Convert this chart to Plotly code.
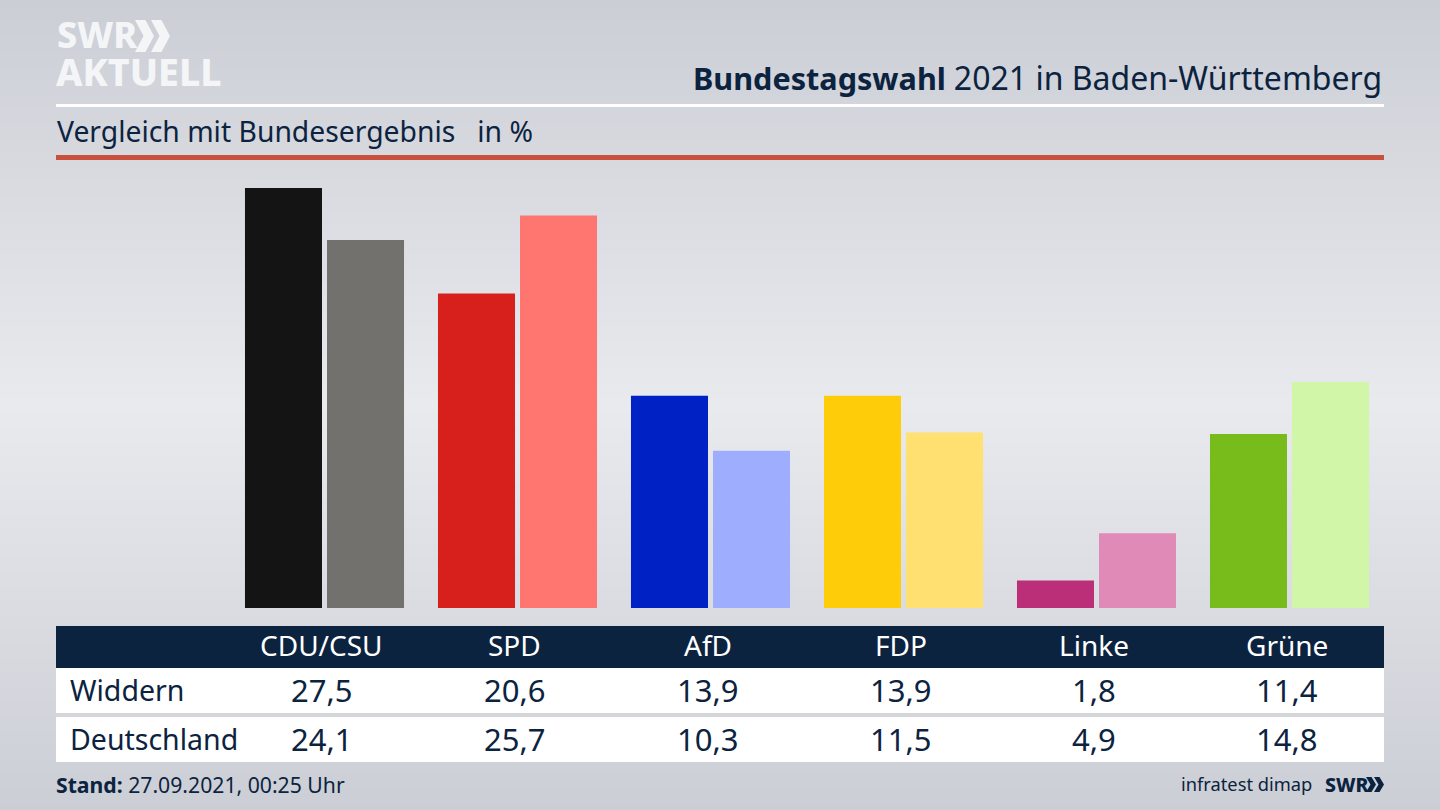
import plotly.graph_objects as go

# chart values
parties = ["CDU/CSU", "SPD", "AfD", "FDP", "Linke", "Grüne"]
widdern = [27.5, 20.6, 13.9, 13.9, 1.8, 11.4]
deutschland = [24.1, 25.7, 10.3, 11.5, 4.9, 14.8]
widdern_colors = ["#141414", "#d7201c", "#0021c4", "#ffcc0a", "#bb2f78", "#78bc1c"]
deutschland_colors = ["#72716e", "#ff7570", "#9fadff", "#ffe070", "#e08ab8", "#d2f6a8"]
row_labels = ["Widdern", "Deutschland"]

# background gradient, from top to bottom of the page
bg_stops = [0, 405, 810]
bg_levels = [0.0, 1.0, 0.0]

W = 1440
H = 810
FONT = "Noto Sans"
NAVY = "#0c2340"
LOGO = "#f4f5f7"


def px(x):
    return x / W


def py(y):
    return 1 - y / H


def rect(x0, y0, x1, y1, color):
    return dict(type="rect", xref="paper", yref="paper", x0=px(x0), x1=px(x1),
                y0=py(y0), y1=py(y1), fillcolor=color, line_width=0)


def label(x, y, text, size, color=NAVY, anchor="center", weight=None):
    font = dict(family=FONT, size=size, color=color)
    if weight:
        font["weight"] = weight
    return dict(xref="paper", yref="paper", x=px(x), y=py(y), text=text, showarrow=False,
                xanchor=anchor, yanchor="middle", font=font)


def chevron(x, y, w, h, color):
    # one arrow of the SWR logo
    t = w * 0.55
    path = "M {} {} L {} {} L {} {} L {} {} L {} {} L {} {} Z".format(
        px(x), py(y), px(x + t), py(y), px(x + w), py(y + h / 2),
        px(x + t), py(y + h), px(x), py(y + h), px(x + w - t), py(y + h / 2))
    return dict(type="path", xref="paper", yref="paper", path=path, line_width=0, fillcolor=color)


fig = go.Figure()

# page background
fig.add_trace(go.Heatmap(
    x=[0, 1], y=bg_stops, z=[[v, v] for v in bg_levels],
    zmin=0, zmax=1, zsmooth="best", showscale=False, hoverinfo="skip",
    colorscale=[[0, "#cbced5"], [1, "#e9eaee"]],
))

fig.add_trace(go.Bar(x=parties, y=widdern, name=row_labels[0], marker=dict(color=widdern_colors, line_width=0),
                     xaxis="x2", yaxis="y2"))
fig.add_trace(go.Bar(x=parties, y=deutschland, name=row_labels[1], marker=dict(color=deutschland_colors, line_width=0),
                     xaxis="x2", yaxis="y2"))

# table and header furniture
shapes = [
    rect(56, 104, 1384, 107, "#ffffff"),
    rect(56, 155, 1384, 160, "#c9503c"),
    rect(56, 626, 1384, 668, NAVY),
    rect(56, 668, 1384, 713, "#ffffff"),
    rect(56, 713, 1384, 717, "#d5d6da"),
    rect(56, 717, 1384, 762, "#ffffff"),
    chevron(135, 20, 19, 32, LOGO),
    chevron(151, 20, 19, 32, LOGO),
    chevron(1366, 777, 10, 15, NAVY),
    chevron(1374, 777, 10, 15, NAVY),
]

title_text = "<b>Bundestagswahl</b> <span style='font-size:32px'>2021 in Baden-Württemberg</span>"

annotations = [
    label(55, 35, "SWR", 36, LOGO, "left", 800),
    label(54, 71, "AKTUELL", 37.5, LOGO, "left", 800),
    label(1384, 77, title_text, 30.6, NAVY, "right"),
    label(55, 131, "Vergleich mit Bundesergebnis   in %", 28.3, NAVY, "left"),
    label(68, 690, row_labels[0], 28.5, NAVY, "left"),
    label(68, 739, row_labels[1], 28.5, NAVY, "left"),
    label(54, 784, "<b>Stand:</b> 27.09.2021, 00:25 Uhr", 21.2, NAVY, "left"),
    label(1314, 783, "infratest dimap", 18.3, NAVY, "right"),
    label(1323, 784, "SWR", 19.5, NAVY, "left", 800),
]

for i, party in enumerate(parties):
    cx = 321.5 + 193 * i
    annotations.append(label(cx, 645, party, 28, "#ffffff"))
    annotations.append(label(cx, 690, str(widdern[i]).replace(".", ","), 31))
    annotations.append(label(cx, 739, str(deutschland[i]).replace(".", ","), 31))

fig.update_layout(
    width=W,
    height=H,
    margin=dict(l=0, r=0, t=0, b=0),
    autosize=False,
    showlegend=False,
    barmode="group",
    bargap=0.15,
    bargroupgap=0.061,
    paper_bgcolor="#dcdde2",
    plot_bgcolor="rgba(0,0,0,0)",
    font=dict(family=FONT, color=NAVY),
    xaxis=dict(domain=[0, 1], range=[0, 1], visible=False, fixedrange=True),
    yaxis=dict(domain=[0, 1], range=[810, 0], visible=False, fixedrange=True),
    xaxis2=dict(domain=[px(228), px(1386)], anchor="y2", visible=False, fixedrange=True),
    yaxis2=dict(domain=[py(608), py(160)], range=[0, (608 - 160) / 15.27], anchor="x2", visible=False, fixedrange=True),
    shapes=shapes,
    annotations=annotations,
)

fig.write_html("out.html", config=dict(displayModeBar=False), post_script="document.body.style.margin='0';")
